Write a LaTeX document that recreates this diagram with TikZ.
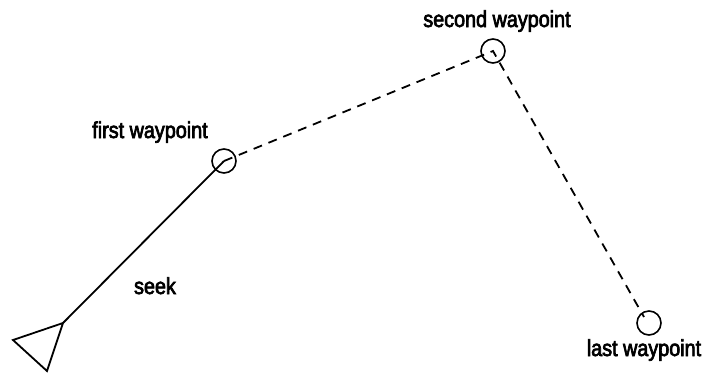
\documentclass[tikz,border=0pt]{standalone}
\usepackage{fontspec}
\setmainfont[FakeStretch=0.86,FakeBold=3]{Liberation Sans}
\begin{document}
\begin{tikzpicture}[x=1pt,y=-1pt,
  wp/.style={circle,draw,line width=1.6pt,minimum size=24pt,inner sep=0pt},
  lbl/.style={inner sep=0pt,anchor=base,font=\fontsize{23}{26}\selectfont},
  path/.style={line width=1.8pt},
  dpath/.style={line width=1.8pt,dash pattern=on 9pt off 7pt}]
\useasboundingbox (0,0) rectangle (708,373);
\node[wp] (w1) at (224,161) {};
\node[wp] (w2) at (493,51) {};
\node[wp] (w3) at (649,323) {};
\coordinate (tip) at (63,323);
\coordinate (ta) at (13,340);
\coordinate (tb) at (47,371);
\coordinate (dend) at (644,317);
\draw[path,line join=miter] (tip) -- (ta) -- (tb) -- cycle;
\draw[path] (tip) -- (w1.center);
\draw[dpath] (w1.center) -- (w2.center) -- (dend);
\node[lbl] (l1) at (150,138) {first waypoint};
\node[lbl] (l2) at (497,27) {second waypoint};
\node[lbl] (l3) at (155,294) {seek};
\node[lbl] (l4) at (644,356) {last waypoint};
\end{tikzpicture}
\end{document}
